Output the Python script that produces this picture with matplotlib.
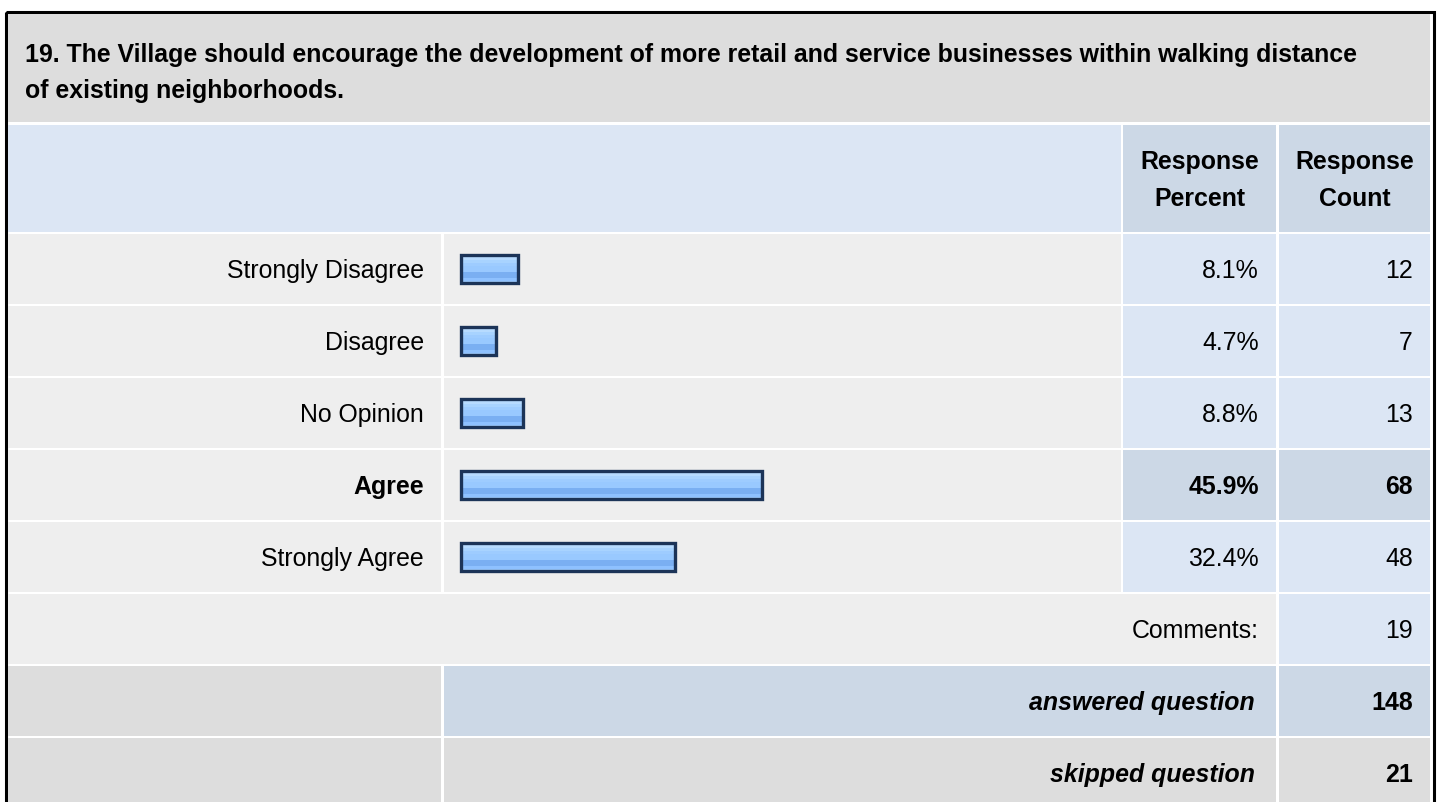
import numpy as np
import matplotlib
matplotlib.use('Agg')
import matplotlib.pyplot as plt
import matplotlib.patches as patches

# Survey data
question = ["19. The Village should encourage the development of more retail and service businesses within walking distance",
            "of existing neighborhoods."]
answers = ['Strongly Disagree', 'Disagree', 'No Opinion', 'Agree', 'Strongly Agree']
percents = [8.1, 4.7, 8.8, 45.9, 32.4]
counts = [12, 7, 13, 68, 48]
comments = 19
answered = 148
skipped = 21
highlight = 'Agree'

plt.rcParams['font.family'] = ['Liberation Sans', 'DejaVu Sans']

fig = plt.figure(figsize=(14.4, 8.02), dpi=100)
ax = fig.add_axes([0, 0, 1, 1])
ax.set_xlim(0, 1440)
ax.set_ylim(802, 0)
ax.axis('off')

GRAY = '#dddddd'
LIGHT = '#eeeeee'
BLUE = '#dce6f4'
DBLUE = '#ccd8e6'
FS = 17.9

# column edges
c_lab = (8, 441)
c_bar = (444, 1121)
c_pct = (1123, 1276)
c_cnt = (1279, 1430)


def cell(x0, x1, y0, y1, color):
    ax.add_patch(patches.Rectangle((x0, y0), x1 - x0, y1 - y0, facecolor=color, edgecolor='none'))


# outer border
ax.add_patch(patches.Rectangle((5.5, 11.5), 1428, 800, facecolor='none', edgecolor='black', linewidth=2.2))

# title
cell(8, 1430, 14, 122, GRAY)
ax.text(25, 62, question[0], fontsize=FS, fontweight='bold', va='baseline', ha='left')
ax.text(25, 98, question[1], fontsize=FS, fontweight='bold', va='baseline', ha='left')

# header
cell(8, 1121, 125, 232, BLUE)
cell(*c_pct, 125, 232, DBLUE)
cell(*c_cnt, 125, 232, DBLUE)
for col, l1, l2 in [(c_pct, 'Response', 'Percent'), (c_cnt, 'Response', 'Count')]:
    xc = (col[0] + col[1]) / 2
    ax.text(xc, 169, l1, fontsize=FS, fontweight='bold', ha='center', va='baseline')
    ax.text(xc, 206, l2, fontsize=FS, fontweight='bold', ha='center', va='baseline')

# gradient for bars
grad = np.array([[0.80, 0.90, 1.0], [0.72, 0.86, 1.0], [0.66, 0.83, 1.0], [0.62, 0.80, 1.0],
                 [0.60, 0.79, 1.0], [0.60, 0.79, 1.0], [0.48, 0.69, 0.95], [0.48, 0.69, 0.95],
                 [0.56, 0.76, 1.0], [0.62, 0.80, 1.0]])[:, None, :]

row_h = 72
bar_x = 460
scale = 6.45
for i, (ans, p, n) in enumerate(zip(answers, percents, counts)):
    y0 = 234 + row_h * i
    y1 = y0 + 70
    yc = (y0 + y1) / 2
    hl = ans == highlight
    cell(*c_lab, y0, y1, LIGHT)
    cell(*c_bar, y0, y1, LIGHT)
    cell(*c_pct, y0, y1, DBLUE if hl else BLUE)
    cell(*c_cnt, y0, y1, DBLUE if hl else BLUE)
    w = scale * p + 7
    ax.imshow(grad, extent=(bar_x, bar_x + w, yc + 15, yc - 15), aspect='auto', interpolation='nearest', zorder=3)
    ax.add_patch(patches.Rectangle((bar_x + 1, yc - 14), w - 2, 28, facecolor='none',
                                   edgecolor='#1c3458', linewidth=2.4, zorder=4))
    fw = 'bold' if hl else 'normal'
    ax.text(424, yc + 9, ans, fontsize=FS, fontweight=fw, ha='right', va='baseline')
    ax.text(1259, yc + 9, f'{p:.1f}%', fontsize=FS, fontweight=fw, ha='right', va='baseline')
    ax.text(1413, yc + 9, str(n), fontsize=FS, fontweight=fw, ha='right', va='baseline')

# comments row
cell(8, 1276, 594, 664, LIGHT)
cell(*c_cnt, 594, 664, BLUE)
ax.text(1259, 638, 'Comments:', fontsize=FS, ha='right', va='baseline')
ax.text(1413, 638, str(comments), fontsize=FS, ha='right', va='baseline')

# answered row
cell(*c_lab, 666, 736, GRAY)
cell(444, 1276, 666, 736, DBLUE)
cell(*c_cnt, 666, 736, DBLUE)
ax.text(1255, 710, 'answered question', fontsize=FS, fontweight='bold', fontstyle='italic', ha='right', va='baseline')
ax.text(1413, 710, str(answered), fontsize=FS, fontweight='bold', ha='right', va='baseline')

# skipped row
cell(*c_lab, 738, 810, GRAY)
cell(444, 1276, 738, 810, GRAY)
cell(*c_cnt, 738, 810, GRAY)
ax.text(1255, 782, 'skipped question', fontsize=FS, fontweight='bold', fontstyle='italic', ha='right', va='baseline')
ax.text(1413, 782, str(skipped), fontsize=FS, fontweight='bold', ha='right', va='baseline')

ax.set_xlim(0, 1440)
ax.set_ylim(802, 0)
fig.savefig('out.png', dpi=100)
